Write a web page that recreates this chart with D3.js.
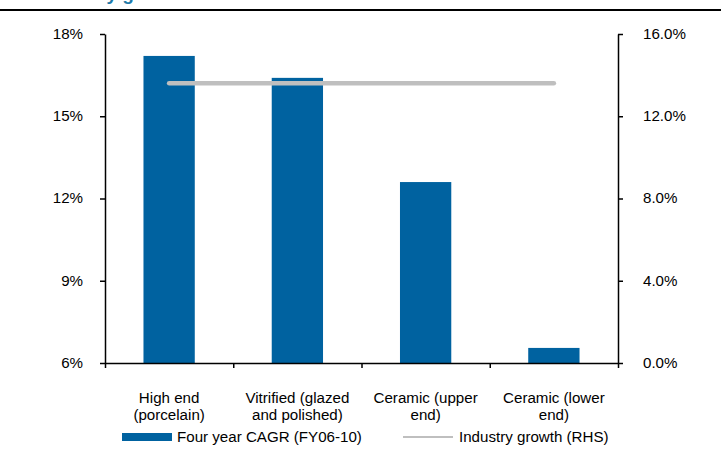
<!DOCTYPE html>
<html>
<head>
<meta charset="utf-8">
<script src="https://cdn.jsdelivr.net/npm/d3@7"></script>
<style>
  html, body { margin: 0; padding: 0; background: #fff; }
  svg { display: block; }
  text { font-family: "Liberation Sans", Arial, sans-serif; fill: #000; }
</style>
</head>
<body>
<svg id="chart" width="721" height="449"></svg>
<script>
// Segment growth data
const categories = [
  ["High end", "(porcelain)"],
  ["Vitrified (glazed", "and polished)"],
  ["Ceramic (upper", "end)"],
  ["Ceramic (lower", "end)"]
];
const cagrValues = [17.2, 16.4, 12.6, 6.55];          // Four year CAGR (FY06-10), left axis
const industryGrowth = [13.6, 13.6, 13.6, 13.6];      // Industry growth, right axis
const leftTicks = [6, 9, 12, 15, 18];
const rightTicks = [0, 4, 8, 12, 16];
const titleText = "Industry growth";

const svg = d3.select("#chart");
const plot = { left: 105, right: 618, top: 34, bottom: 363 };
const fontSize = 14;
const stretch = 1.08;   // slightly wide letterforms
const barColor = "#0062a0";
const lineColor = "#bfbfbf";

// widen a text element's glyphs horizontally
function widen(sel) {
  sel.each(function() {
    const len = this.getComputedTextLength();
    if (len > 0) {
      d3.select(this).attr("textLength", len * stretch).attr("lengthAdjust", "spacingAndGlyphs");
    }
  });
}

// Title (runs off the top edge) and its rule
svg.append("text")
  .attr("x", 42).attr("y", 0)
  .style("font-size", "19px").style("font-weight", "bold")
  .style("fill", "#1f7aa8")
  .text(titleText);
svg.append("line")
  .attr("x1", 0).attr("x2", 721).attr("y1", 10).attr("y2", 10)
  .attr("stroke", "#000").attr("stroke-width", 2);

const idx = d3.range(categories.length);
const x = d3.scaleBand().domain(idx).range([plot.left, plot.right])
  .paddingInner(0.6).paddingOuter(0.3);
const xEdge = d3.scaleLinear().domain([0, categories.length]).range([plot.left, plot.right]);
const yLeft = d3.scaleLinear().domain([6, 18]).range([plot.bottom, plot.top]);
const yRight = d3.scaleLinear().domain([0, 16]).range([plot.bottom, plot.top]);

// Bars
svg.append("g").selectAll("rect").data(cagrValues).join("rect")
  .attr("x", (d, i) => x(i))
  .attr("width", x.bandwidth())
  .attr("y", d => yLeft(d))
  .attr("height", d => yLeft(6) - yLeft(d))
  .attr("fill", barColor);

// Industry growth line
const line = d3.line()
  .x((d, i) => x(i) + x.bandwidth() / 2)
  .y(d => yRight(d));
svg.append("path").datum(industryGrowth)
  .attr("d", line)
  .attr("fill", "none").attr("stroke", lineColor)
  .attr("stroke-width", 4.5).attr("stroke-linecap", "round");

function styleAxis(g) {
  g.selectAll(".domain, .tick line").attr("stroke", "#000").attr("stroke-width", 1.5);
  g.selectAll("text").style("font-size", fontSize + "px")
    .style("font-family", "'Liberation Sans', Arial, sans-serif").attr("fill", "#000")
    .call(widen);
}

// Left axis
svg.append("g").attr("transform", `translate(${plot.left},0)`)
  .call(d3.axisLeft(yLeft).tickValues(leftTicks).tickSize(5).tickSizeOuter(0)
    .tickPadding(18).tickFormat(d => d + "%"))
  .call(g => g.selectAll("text").attr("x", -22))
  .call(styleAxis);

// Right axis
svg.append("g").attr("transform", `translate(${plot.right},0)`)
  .call(d3.axisRight(yRight).tickValues(rightTicks).tickSize(5).tickSizeOuter(0)
    .tickFormat(d => d.toFixed(1) + "%"))
  .call(g => g.selectAll("text").attr("x", 25))
  .call(styleAxis);

// Bottom axis with ticks at category boundaries
svg.append("g").attr("transform", `translate(0,${plot.bottom})`)
  .call(d3.axisBottom(xEdge).tickValues(d3.range(categories.length + 1))
    .tickSize(5).tickSizeOuter(0).tickFormat(""))
  .call(styleAxis);

// Category labels, one text per line
const catGroup = svg.append("g");
categories.forEach((lines, i) => {
  const cx = x(i) + x.bandwidth() / 2;
  lines.forEach((t, j) => {
    catGroup.append("text")
      .attr("x", cx).attr("y", 403 + j * 17)
      .attr("text-anchor", "middle")
      .style("font-size", fontSize + "px")
      .text(t);
  });
});
catGroup.selectAll("text").call(widen);

// Legend
const legend = svg.append("g");
legend.append("rect").attr("x", 122).attr("y", 433).attr("width", 50).attr("height", 8)
  .attr("fill", barColor);
legend.append("text").attr("x", 177).attr("y", 442).style("font-size", fontSize + "px")
  .text("Four year CAGR (FY06-10)");
legend.append("line").attr("x1", 403).attr("x2", 453).attr("y1", 437).attr("y2", 437)
  .attr("stroke", lineColor).attr("stroke-width", 2);
legend.append("text").attr("x", 459).attr("y", 442).style("font-size", fontSize + "px")
  .text("Industry growth (RHS)");
legend.selectAll("text").call(widen);
</script>
</body>
</html>
